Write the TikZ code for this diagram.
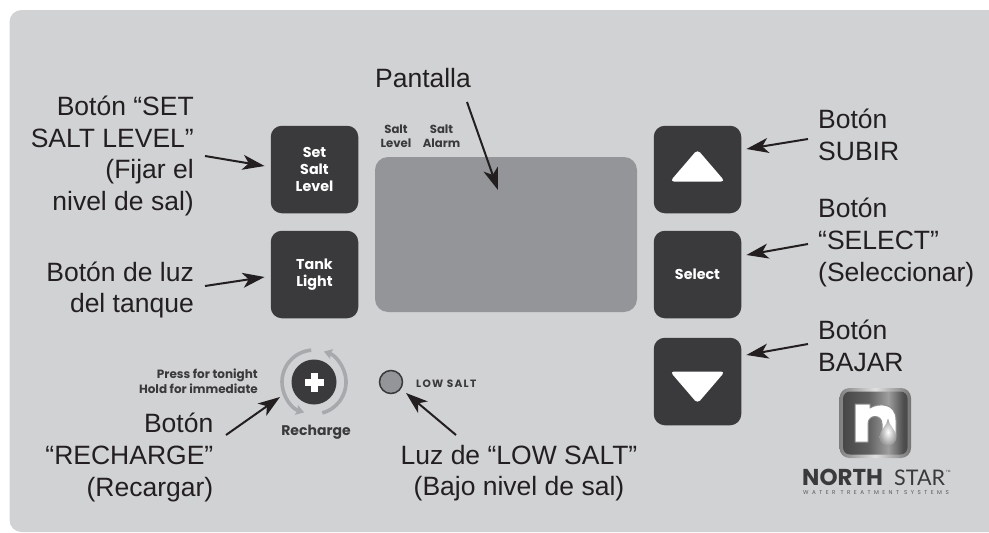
\documentclass[tikz,border=0pt]{standalone}
\usepackage{fontspec}
\setmainfont{Liberation Sans}
\newfontfamily\pop{Poppins}
\newfontfamily\popwide[LetterSpace=12]{Poppins}
\newfontfamily\popsub[LetterSpace=62]{Poppins}
\newfontfamily\lat{Lato}
\usetikzlibrary{arrows.meta,calc}
\definecolor{panel}{HTML}{D1D2D4}
\definecolor{dark}{HTML}{3A3A3C}
\definecolor{screen}{HTML}{939598}
\definecolor{ring}{HTML}{A7A9AC}
\definecolor{ink}{HTML}{231F20}
\pgfdeclarehorizontalshading{metal}{100bp}{color(0bp)=(black!72); color(25bp)=(black!72); color(45bp)=(black!62); color(60bp)=(black!38); color(72bp)=(black!70); color(100bp)=(black!78)}
\pgfdeclarehorizontalshading{frame}{100bp}{color(0bp)=(black!50); color(25bp)=(black!50); color(50bp)=(black!12); color(75bp)=(black!55); color(100bp)=(black!55)}
\tikzset{
  btn/.style={fill=dark,draw=none,rounded corners=11pt,minimum width=87.5pt,minimum height=87.5pt,inner sep=0pt,text=white,align=center,font=\pop\bfseries\fontsize{14.3}{17}\selectfont},
  lbl/.style={inner sep=0pt,text=ink,font=\fontsize{26.5}{31.7}\selectfont},
  tiny/.style={inner sep=0pt,text=dark,font=\pop\bfseries\fontsize{11.7}{14}\selectfont},
  arr/.style={draw=ink,line width=2pt,-{Stealth[length=22pt,width=15pt,inset=6pt]}},
  ringarc/.style={draw=ring,line width=3.6pt,-{Stealth[length=8pt,width=10pt,inset=1pt]}}
}
\begin{document}
\begin{tikzpicture}[x=1pt,y=-1pt]
\useasboundingbox (0,0) rectangle (989,533);
% panel
\fill[panel,rounded corners=12pt] (9.5,10) -- (1010,10) -- (1010,532) -- (9.5,532) -- cycle;
% buttons
\node[btn] (setbtn) at (314.5,169.5) {Set\\Salt\\Level};
\node[btn] (tankbtn) at (314.5,274.5) {Tank\\Light};
\node[btn] (upbtn) at (697.5,169.5) {};
\node[btn] (selbtn) at (697.5,274.5) {Select};
\node[btn] (downbtn) at (697.5,381.5) {};
\node[fill=screen,rounded corners=13pt,minimum width=262pt,minimum height=155pt,inner sep=0pt] (screen) at (506,234.5) {};
% triangles
\fill[white,rounded corners=4pt] (670,181.5) -- (697.5,149.5) -- (725,181.5) -- cycle;
\fill[white,rounded corners=4pt] (670,371.5) -- (697.5,403.5) -- (725,371.5) -- cycle;
% screen captions
\node[tiny,align=center] (sl) at (396,136) {Salt\\Level};
\node[tiny,align=center] (sa) at (441.5,136) {Salt\\Alarm};
% recharge
\node[circle,fill=dark,minimum size=45pt,inner sep=0pt] (rech) at (314,382) {};
\fill[white] (310.8,372.5) rectangle (317.8,391.5);
\fill[white] (304.7,378.5) rectangle (323.8,385.5);
\draw[ringarc] (rech)+(95:32pt) arc[start angle=95,end angle=252,radius=32pt];
\draw[ringarc] (rech)+(-75:32pt) arc[start angle=-75,end angle=72,radius=32pt];
\node[tiny,anchor=east,align=right,font=\pop\bfseries\fontsize{12}{15}\selectfont] (press) at (258,381.5) {Press for tonight\\Hold for immediate};
\node[tiny,font=\pop\bfseries\fontsize{14}{15}\selectfont] (rtext) at (316,432) {Recharge};
% low salt
\node[circle,fill=screen,draw=dark,line width=1.5pt,minimum size=23pt,inner sep=0pt] (led) at (391,382) {};
\node[tiny,anchor=west,font=\popwide\bfseries\fontsize{10.6}{10.6}\selectfont] (ltext) at (416,384) {LOW SALT};
% labels
\node[lbl,anchor=east,align=right] (lset) at (194,156) {Botón “SET\\SALT LEVEL”\\(Fijar el\\nivel de sal)};
\node[lbl,anchor=east,align=right] (ltank) at (194,290) {Botón de luz\\del tanque};
\node[lbl] (lpan) at (423,78) {Pantalla};
\node[lbl,anchor=west,align=left] (lup) at (818,135) {Botón\\SUBIR};
\node[lbl,anchor=west,align=left] (lsel) at (818,242.5) {Botón\\“SELECT”\\(Seleccionar)};
\node[lbl,anchor=west,align=left] (ldown) at (818,346) {Botón\\BAJAR};
\node[lbl,anchor=east,align=right] (lrech) at (213.5,457.5) {Botón\\“RECHARGE”\\(Recargar)};
\node[lbl,align=center] (llow) at (519,473) {Luz de “LOW SALT”\\(Bajo nivel de sal)};
% connector ends
\coordinate (aset) at (205,156);
\coordinate (atank) at (205,286);
\coordinate (apan) at (467,102);
\coordinate (aup) at (808,139);
\coordinate (asel) at (808,244);
\coordinate (adown) at (808,344);
\coordinate (arech) at (226,435);
\coordinate (alow) at (456,435);
\draw[arr] (aset) -- ($(setbtn.west)+(-6,-3.5)$);
\draw[arr] (atank) -- ($(tankbtn.west)+(-6,2.5)$);
\draw[arr] (apan) -- ($(screen.center)+(-8,-44.5)$);
\draw[arr] (aup) -- ($(upbtn.east)+(5,-20.5)$);
\draw[arr] (asel) -- ($(selbtn.east)+(5,-19.5)$);
\draw[arr] (adown) -- ($(downbtn.east)+(5,-26.5)$);
\draw[arr] (arech) -- ($(rech.center)+(-34,15)$);
\draw[arr] (alow) -- ($(led.center)+(15,11)$);
% logo
\shade[shading=frame,rounded corners=10pt] (839.5,388) rectangle (911,458);
\shade[shading=metal,rounded corners=7pt] (843,391.5) rectangle (907.5,454.5);
\filldraw[white,draw=black!45,line width=1pt,line join=round] (855,404) -- (870,404) -- (870,408) .. controls (878,403) and (896,402) .. (896,420) -- (896,436) -- (882,436) -- (882,424) .. controls (882,414) and (868,414) .. (868,424) -- (868,442) -- (855,442) -- cycle;
\shade[inner color=white,outer color=black!40] (888,418.5) .. controls (889,426) and (896.5,430) .. (896.5,437) arc[start angle=0,end angle=-180,radius=8.5pt] .. controls (879.5,430) and (887,426) .. (888,418.5) -- cycle;
\node[inner sep=0pt,anchor=base west,text=dark,font=\pop\bfseries\fontsize{23}{23}\selectfont] (north) at (802,485.5) {NORTH};
\node[inner sep=0pt,anchor=base west,text=dark,font=\lat\fontsize{21.5}{21}\selectfont] (star) at (894,485.5) {STAR};
\node[inner sep=0pt,anchor=base west,text=dark,font=\pop\fontsize{3}{3}\selectfont] (tm) at (946,472) {TM};
\node[inner sep=0pt,anchor=base west,text=dark!85,font=\popsub\fontsize{5.6}{6}\selectfont] (sub) at (803,494) {WATER TREATMENT SYSTEMS};
\end{tikzpicture}
\end{document}
